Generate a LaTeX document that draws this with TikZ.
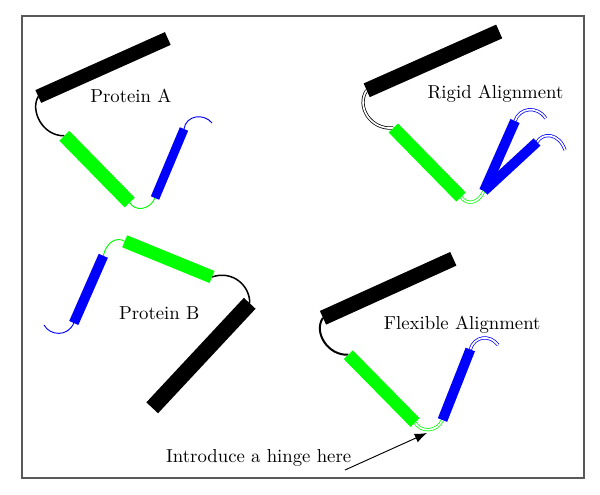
\documentclass[tikz,border=0pt]{standalone}
\usetikzlibrary{arrows.meta}
\begin{document}
\begin{tikzpicture}[x=0.5333pt,y=-0.5333pt,
  hx/.style={line width=#1},
  conn/.style={line width=0.8pt},
  thinc/.style={line width=0.5pt},
  dbl/.style={line width=0.4pt, double=white, double distance=0.9pt},
  lbl/.style={anchor=base, inner sep=0pt}]
\useasboundingbox (0,0) rectangle (600,495);
\draw[black!65, line width=0.7pt] (22,16) rectangle (584,478);

% ---------- Protein A ----------
\coordinate (a1s) at (38.3,96.5);  \coordinate (a1e) at (167.8,38.5);
\coordinate (a2s) at (64.3,135.8); \coordinate (a2e) at (129.7,202.5);
\coordinate (a3s) at (155,198);    \coordinate (a3e) at (184,129);
\coordinate (a4)  at (212,123);
\draw[conn, black] (a1s) .. controls (30,110) and (42,136) .. (a2s);
\draw[thinc, green] (a2e) .. controls (135,212) and (150,210) .. (a3s);
\draw[thinc, blue] (a3e) .. controls (186,115) and (204,113) .. (a4);
\draw[hx=7.47pt, black] (a1s) -- (a1e);
\draw[hx=7.47pt, green] (a2s) -- (a2e);
\draw[hx=4.8pt, blue] (a3s) -- (a3e);
\node[lbl] (labA) at (130.8,102.3) {Protein A};

% ---------- Rigid Alignment ----------
\coordinate (r1s) at (366.7,90.3); \coordinate (r1e) at (499.2,31.5);
\coordinate (r2s) at (393.3,128);  \coordinate (r2e) at (461,197);
\coordinate (r3s) at (484,191);    \coordinate (r3e) at (515,121);
\coordinate (r3f) at (537,142);
\coordinate (r4) at (545.7,118.3); \coordinate (r5) at (565,150);
\draw[dbl, draw=black] (r1s) .. controls (356,106) and (370,130) .. (r2s);
\draw[dbl, draw=green] (r2e) .. controls (467,206) and (479,203) .. (r3s);
\draw[dbl, draw=blue] (r3e) .. controls (519,108) and (537,105) .. (r4);
\draw[dbl, draw=blue] (r3f) .. controls (543,132) and (559,133) .. (r5);
\draw[hx=8pt, black] (r1s) -- (r1e);
\draw[hx=6.93pt, green] (r2s) -- (r2e);
\draw[hx=5.33pt, blue] (r3s) -- (r3e);
\draw[hx=5.33pt, blue] (r3s) -- (r3f);
\node[lbl] (labR) at (495.5,99) {Rigid Alignment};

% ---------- Protein B ----------
\coordinate (b1s) at (124.7,241.3); \coordinate (b1e) at (212,277);
\coordinate (b2s) at (249.7,303.3); \coordinate (b2e) at (152.2,407.8);
\coordinate (b3s) at (103.3,255.8); \coordinate (b3e) at (73.8,323);
\coordinate (b4)  at (44,325);
\draw[conn, black] (b1e) .. controls (232,270) and (250,285) .. (b2s);
\draw[thinc, green] (b1s) .. controls (116,236) and (106,243) .. (b3s);
\draw[thinc, blue] (b3e) .. controls (68,337) and (50,336) .. (b4);
\draw[hx=6.93pt, green] (b1s) -- (b1e);
\draw[hx=8.53pt, black] (b2s) -- (b2e);
\draw[hx=5.33pt, blue] (b3s) -- (b3e);
\node[lbl] (labB) at (159.2,320) {Protein B};

% ---------- Flexible Alignment ----------
\coordinate (f1s) at (323,317.8);   \coordinate (f1e) at (453.3,258.8);
\coordinate (f2s) at (348.3,354.7); \coordinate (f2e) at (415,422.5);
\coordinate (f3s) at (442.5,420);   \coordinate (f3e) at (470.3,349.5);
\coordinate (f4)  at (498,345);
\draw[line width=1.07pt, black] (f1s) .. controls (313,332) and (328,356) .. (f2s);
\draw[dbl, draw=green] (f2e) .. controls (421,433) and (437,432) .. (f3s);
\draw[dbl, draw=blue] (f3e) .. controls (474,336) and (490,334) .. (f4);
\draw[hx=8pt, black] (f1s) -- (f1e);
\draw[hx=6.67pt, green] (f2s) -- (f2e);
\draw[hx=5.33pt, blue] (f3s) -- (f3e);
\node[lbl] (labF) at (462.2,329.3) {Flexible Alignment};

% ---------- hinge annotation ----------
\node[lbl] (hint) at (258.7,462.7) {Introduce a hinge here};
\coordinate (tail) at (345,470);
\coordinate (tip) at (427,433);
\draw[line width=0.5pt, -{Latex[length=6.5pt,width=5pt]}] (tail) -- (tip);
\end{tikzpicture}
\end{document}
